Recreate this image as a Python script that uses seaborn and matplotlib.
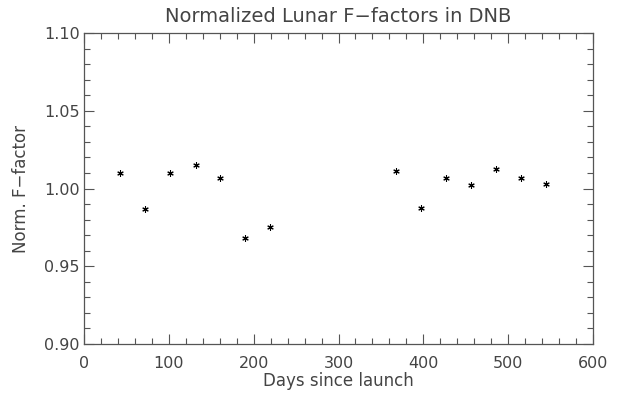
import matplotlib
matplotlib.use("Agg")
import matplotlib.pyplot as plt
import seaborn as sns
import pandas as pd
from matplotlib.ticker import MultipleLocator, FormatStrFormatter

days = [42, 72, 101, 132, 160, 190, 219, 368, 397, 427, 456, 486, 515, 545]
ffactor = [1.010, 0.987, 1.0097, 1.015, 1.0065, 0.968, 0.975, 1.011, 0.9875, 1.0065, 1.002, 1.0125, 1.007, 1.003]
title = "Normalized Lunar F\u2212factors in DNB"
xlabel = "Days since launch"
ylabel = "Norm. F\u2212factor"

df = pd.DataFrame({"days": days, "f": ffactor})

sns.set_style("ticks")
plt.rcParams["font.family"] = ["DejaVu Sans"]
txt = "#444444"
axc = "#555555"

fig = plt.figure(figsize=(6.19, 3.95), dpi=100)
ax = fig.add_axes([0.1357, 0.1291, 0.8223, 0.7873])
sns.scatterplot(data=df, x="days", y="f", ax=ax, marker=(6, 2, 0), s=16,
                color="black", linewidth=0.8, edgecolor="black")

ax.set_xlim(0, 600)
ax.set_ylim(0.90, 1.10)
ax.xaxis.set_major_locator(MultipleLocator(100))
ax.xaxis.set_minor_locator(MultipleLocator(20))
ax.yaxis.set_major_locator(MultipleLocator(0.05))
ax.yaxis.set_minor_locator(MultipleLocator(0.01))
ax.yaxis.set_major_formatter(FormatStrFormatter("%.2f"))
ax.tick_params(which="both", direction="in", top=True, right=True, color=axc, width=0.8,
               labelsize=11.5, labelcolor=txt)
ax.tick_params(which="major", length=7)
ax.tick_params(which="minor", length=4)
ax.tick_params(axis="x", which="major", pad=8.5)
ax.tick_params(axis="y", which="major", pad=3)
for s in ax.spines.values():
    s.set_visible(True)
    s.set_color(axc)
    s.set_linewidth(0.9)

ax.set_xlabel(xlabel, fontsize=12, color=txt, labelpad=1)
ax.set_ylabel(ylabel, fontsize=12, color=txt, labelpad=10)
ax.set_title(title, fontsize=14, color=txt, pad=8)

fig.savefig("out.png", dpi=100)
